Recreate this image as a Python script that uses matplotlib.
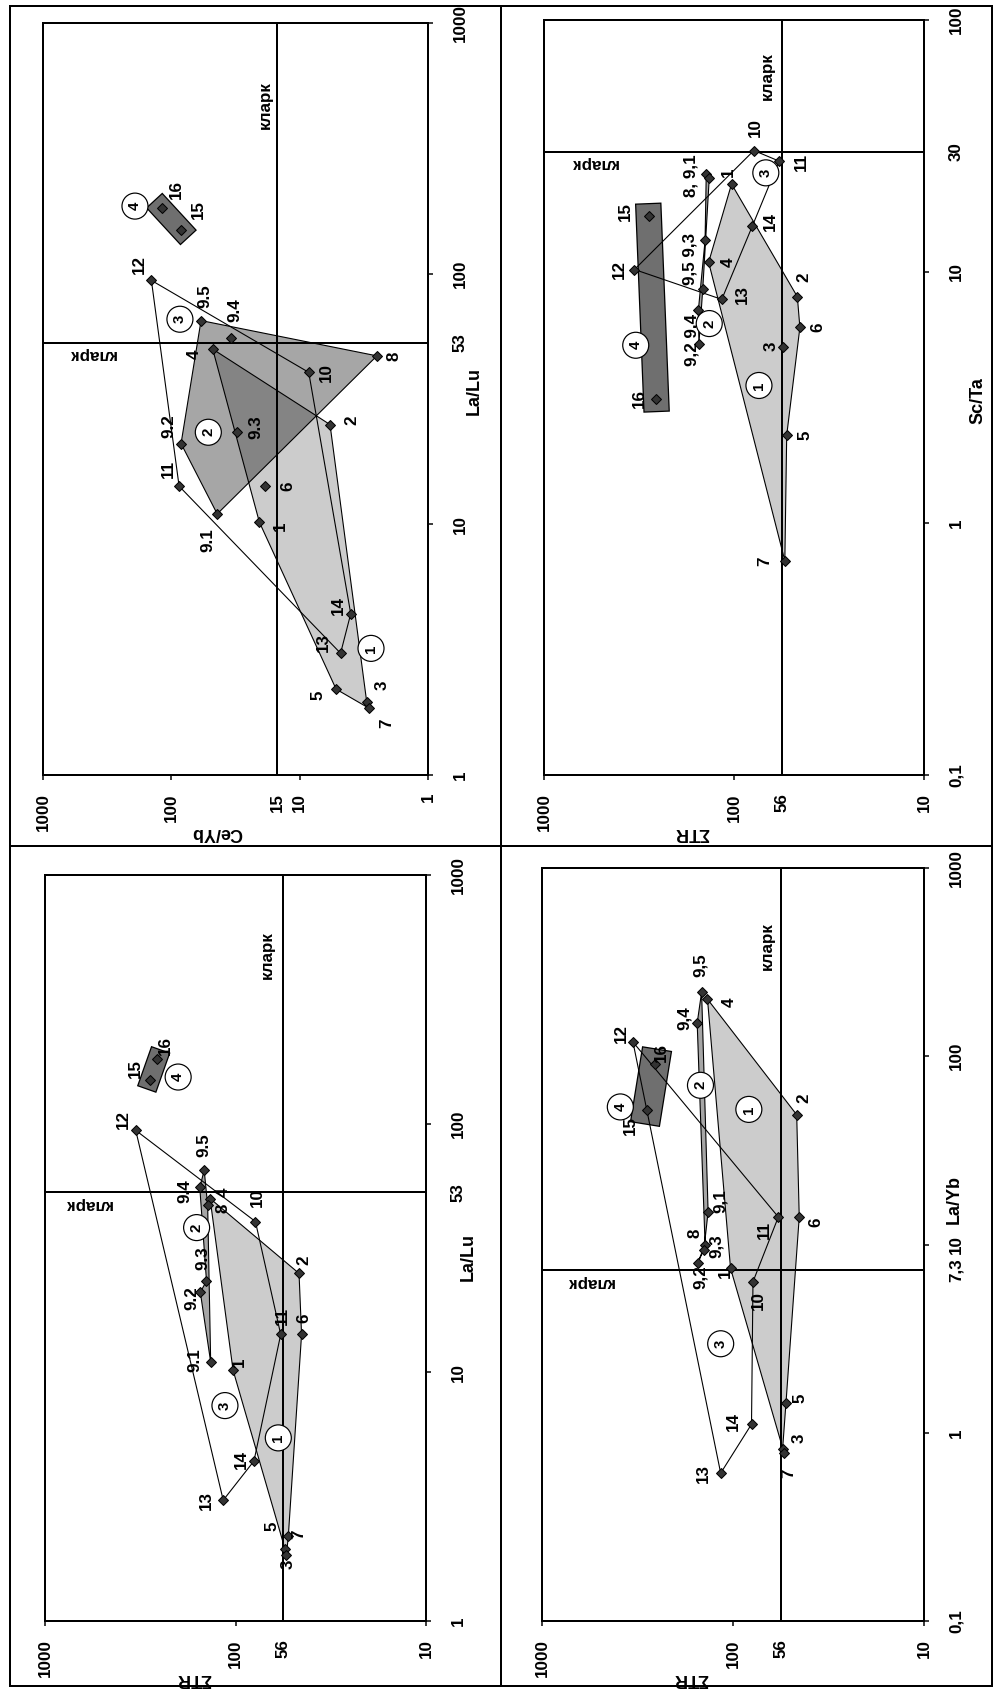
import matplotlib
matplotlib.use("Agg")
import matplotlib.pyplot as plt
import matplotlib.patheffects as pe
from matplotlib.lines import Line2D
from matplotlib.patches import Polygon
from matplotlib.ticker import FixedLocator, FixedFormatter

plt.rcParams["font.family"] = ["Liberation Sans", "DejaVu Sans"]
plt.rcParams["font.weight"] = "bold"

W, H, DPI = 997, 1691, 72  # 1 pt == 1 px

# samples and ratios (shared by all four diagrams)
SAMPLES = ["1", "2", "3", "4", "5", "6", "7", "8", "9.1", "9.2", "9.3",
           "9.4", "9.5", "10", "11", "12", "13", "14", "15", "16"]
LA_LU = [10.2, 25.0, 1.95, 50.0, 2.2, 14.2, 1.85, 47.0, 11.0, 21.0, 23.3,
         55.4, 65.0, 40.4, 14.2, 94.0, 3.06, 4.4, 150.0, 182.0]
CE_YB = [20.6, 5.8, 3.0, 47.6, 5.2, 18.6, 2.9, 2.5, 43.9, 84.0, 31.0,
         34.3, 58.7, 8.5, 87.0, 143.0, 4.8, 4.0, 84.0, 119.0]
ETR = [103, 46.4, 55, 136, 52.8, 45, 54, 140, 135, 153, 142,
       154, 146, 78.6, 57.9, 334, 116, 80, 281, 257]
SC_TA = [22.3, 7.95, 5.03, 10.9, 2.24, 6.0, 0.71, 24.4, 23.5, 5.16, 13.3,
         7.03, 8.56, 30.3, 27.5, 10.2, 7.76, 15.2, 16.6, 3.12]
LA_YB = [7.47, 48.9, 0.82, 201, 1.44, 14.0, 0.78, 10.0, 14.9, 7.98, 9.4,
         150, 219, 6.34, 14.0, 119, 0.61, 1.11, 52.1, 91.4]

# clarke (кларк) levels
CLARKE = {"La/Lu": 53, "Ce/Yb": 15, "ETR": 56, "Sc/Ta": 30, "La/Yb": 7.3}

# group outlines (vertex order) for each diagram
GROUPS = {
    "A": [["4", "2", "3", "7", "5", "1"], ["9.5", "8", "9.1", "9.2"],
          ["12", "10", "14", "13", "11"]],
    "B": [["1", "2", "6", "5", "7", "4"], ["8", "9.3", "9.4", "9.2", "9.5", "9.1"],
          ["12", "10", "11", "14", "13"]],
    "C": [["4", "2", "6", "5", "7", "3", "1"], ["9.5", "9.4", "9.3", "9.2", "9.1", "8"],
          ["12", "10", "11", "14", "13"]],
    "D": [["4", "2", "6", "5", "3", "7", "1"], ["9.5", "9.1", "9.3", "9.2", "8", "9.4"],
          ["12", "11", "10", "14", "13"]],
}

# circled group numbers, positions in data units
CIRCLES = {
    "A": [(2.78, 3.2), (51.5, 23.3), (85.7, 65.8), (192, 186)],
    "B": [(73.9, 3.53), (135, 6.22), (68, 24.7), (329, 5.1)],
    "C": [(59.6, 5.45), (160, 38.2), (113.6, 7.35), (200, 154)],
    "D": [(82.6, 52.2), (148, 70.1), (116, 2.97), (389, 53.8)],
}

# label offsets in px (dx right, dy down)
OFFSETS = {
    "A": {"1": (21, 4), "2": (22, -4), "3": (15, -17), "4": (-18, 5), "5": (-18, 6),
          "6": (23, 0), "7": (18, 15), "8": (17, 0), "9.1": (-9, 26), "9.2": (-12, -17),
          "9.3": (19, -5), "9.4": (4, -28), "9.5": (4, -24), "10": (18, 0),
          "11": (-11, -17), "12": (-12, -16), "13": (-17, -11), "14": (-12, -8),
          "15": (17, -20), "16": (15, -19)},
    "B": {"1": (-3, -12), "2": (7, -19), "3": (-12, 0), "4": (20, 0), "5": (18, 0),
          "6": (18, 0), "7": (-20, 0), "8": (-15, 2), "9.2": (-7, -4), "9.5": (-13, -30),
          "10": (2, -23), "11": (22, 1), "12": (-15, 0), "13": (21, -5), "14": (18, -4),
          "15": (-23, -5), "16": (-17, 0)},
    "C": {"1": (6, -8), "2": (5, -13), "3": (3, 15), "4": (13, -6), "5": (-16, -10),
          "6": (2, -16), "7": (12, -20), "8": (15, 3), "9.1": (-16, -2), "9.2": (-8, 6),
          "9.3": (-4, -23), "9.4": (-15, 4), "9.5": (0, -25), "10": (2, -24),
          "11": (2, -19), "12": (-12, -11), "13": (-17, 0), "14": (-13, -1),
          "15": (-15, -11), "16": (8, -13)},
    "D": {"1": (-5, 5), "2": (7, -16), "3": (17, -11), "4": (22, 3), "5": (14, -5),
          "6": (17, 5), "7": (5, 20), "8": (-10, -11), "9.1": (12, -11), "9.2": (3, 14),
          "9.3": (12, -3), "9.4": (-13, -5), "9.5": (-1, -27), "10": (5, 19),
          "11": (-14, 13), "12": (-12, -8), "13": (-17, 0), "14": (-18, -3),
          "15": (-17, 16), "16": (7, -11)},
}
# combined labels on diagram B
B_TEXT = {"8": "8, 9,1", "9.1": "", "9.5": "9,5 9,3", "9.3": "", "9.2": "9,2 9,4", "9.4": ""}

FS = 17


def fmt(v):
    return f"{v:g}".replace(".", ",")


def add_ax(fig, l, t, r, b):
    return fig.add_axes([l / W, 1 - b / H, (r - l) / W, (b - t) / H])


def panel(ax, key, xv, yv, xname, yname, xlim, ylim, xticks, yticks,
          sep, texts, band_lw, clarke_x_at, clarke_y_at, xt_frac, yt_frac, yt_off,
          clarke_x_off):
    ax.set_xscale("log")
    ax.set_yscale("log")
    ax.set_xlim(*xlim)
    ax.set_ylim(*ylim)
    cx, cy = CLARKE[xname], CLARKE[yname]
    ax.xaxis.set_major_locator(FixedLocator(xticks))
    ax.xaxis.set_major_formatter(FixedFormatter([fmt(t) for t in xticks]))
    ax.xaxis.set_minor_locator(FixedLocator([cx]))
    ax.xaxis.set_minor_formatter(FixedFormatter([fmt(cx)]))
    ax.yaxis.set_major_locator(FixedLocator(yticks))
    ax.yaxis.set_major_formatter(FixedFormatter([fmt(t) for t in yticks]))
    ax.yaxis.set_minor_locator(FixedLocator([cy]))
    ax.yaxis.set_minor_formatter(FixedFormatter([fmt(cy)]))
    ax.tick_params(axis="x", which="both", labelsize=FS, labelrotation=90, top=False)
    ax.tick_params(axis="x", which="major", direction="out", length=5, width=1.5, pad=13)
    ax.tick_params(axis="x", which="minor", length=0, pad=18)
    ax.tick_params(axis="y", which="both", left=False, right=True, labelleft=False,
                   labelright=True, labelrotation=90, labelsize=FS)
    ax.tick_params(axis="y", which="major", direction="out", length=5, width=1.5, pad=20)
    ax.tick_params(axis="y", which="minor", length=0, pad=25)
    for lbl in ax.get_yticklabels(which="both"):
        lbl.set_verticalalignment("center")
    for sp in ax.spines.values():
        sp.set_linewidth(2)

    # clarke lines
    ax.axvline(cx, color="k", lw=2, zorder=1)
    ax.axhline(cy, color="k", lw=2, zorder=1)
    ax.annotate("кларк", (cx, clarke_x_at), xytext=(clarke_x_off, 0),
                textcoords="offset points", rotation=90, ha="center", va="center",
                fontsize=FS, zorder=6)
    ax.annotate("кларк", (clarke_y_at, cy), xytext=(0, -12),
                textcoords="offset points", rotation=180, ha="center", va="center",
                fontsize=FS, zorder=6)

    pts = {s: (x, y) for s, x, y in zip(SAMPLES, xv, yv)}
    g1, g2, g3 = GROUPS[key]
    ax.add_patch(Polygon([pts[s] for s in g1], closed=True,
                         facecolor=(0, 0, 0, 0.2), edgecolor="k", lw=1.1, zorder=2))
    ax.add_patch(Polygon([pts[s] for s in g2], closed=True,
                         facecolor=(0, 0, 0, 0.35), edgecolor="k", lw=1.1, zorder=2))
    ax.add_patch(Polygon([pts[s] for s in g3], closed=True,
                         fill=False, edgecolor="k", lw=1.1, zorder=3))
    b = [pts["15"], pts["16"]]
    ax.plot([b[0][0], b[1][0]], [b[0][1], b[1][1]], color="#6f6f6f", lw=band_lw,
            solid_capstyle="projecting", zorder=2.5,
            path_effects=[pe.Stroke(linewidth=band_lw + 2.5, foreground="k"), pe.Normal()])

    ax.plot(xv, yv, ls="none", marker="D", ms=7.5, mfc="#333333", mec="k", mew=1, zorder=5)

    offs = OFFSETS[key]
    for s, x, y in zip(SAMPLES, xv, yv):
        txt = texts.get(s, s.replace(".", sep))
        if not txt:
            continue
        dx, dy = offs[s]
        ax.annotate(txt, (x, y), xytext=(dx, -dy), textcoords="offset points",
                    rotation=90, ha="center", va="center", fontsize=FS, zorder=6)

    for k, (x, y) in enumerate(CIRCLES[key], start=1):
        ax.text(x, y, str(k), rotation=90, ha="center", va="center", fontsize=15,
                zorder=7, bbox=dict(boxstyle="circle,pad=0.4", fc="white", ec="k", lw=1.2))

    xlab = "ΣTR" if xname == "ETR" else xname
    ax.annotate(xlab, (xt_frac, 0), xycoords="axes fraction", xytext=(0, -57),
                textcoords="offset points", rotation=180, ha="center", va="center",
                fontsize=18)
    ax.annotate(yname, (1, yt_frac), xycoords="axes fraction", xytext=(yt_off, 0),
                textcoords="offset points", rotation=90, ha="center", va="center",
                fontsize=18)


fig = plt.figure(figsize=(W / DPI, H / DPI), dpi=DPI)

axA = add_ax(fig, 43, 23, 428, 775)
panel(axA, "A", CE_YB, LA_LU, "Ce/Yb", "La/Lu", (1000, 1), (1, 1000),
      [1, 10, 100, 1000], [1, 10, 100, 1000], ".", {}, 20, 470, 413,
      0.452, 0.51, 46, -12)

axB = add_ax(fig, 544, 20, 924, 775)
panel(axB, "B", ETR, SC_TA, "ETR", "Sc/Ta", (1000, 10), (0.1, 100),
      [10, 100, 1000], [0.1, 1, 10, 100], ",", B_TEXT, 24, 60, 545,
      0.39, 0.496, 54, -14)

axC = add_ax(fig, 45, 875, 426, 1621)
panel(axC, "C", ETR, LA_LU, "ETR", "La/Lu", (1000, 10), (1, 1000),
      [10, 100, 1000], [1, 10, 100, 1000], ".", {}, 18, 476, 598,
      0.39, 0.488, 42, -16)

axD = add_ax(fig, 542, 868, 924, 1621)
panel(axD, "D", ETR, LA_YB, "ETR", "La/Yb", (1000, 10), (0.1, 1000),
      [10, 100, 1000], [0.1, 1, 10, 100, 1000], ",", {}, 28, 387, 564,
      0.39, 0.56, 30, -14)

# page frame
def frame_line(x0, y0, x1, y1):
    fig.add_artist(Line2D([x0 / W, x1 / W], [1 - y0 / H, 1 - y1 / H], color="k", lw=2))

L, R, T, B, VX, HY = 10, 992, 6, 1686, 501, 846
frame_line(L, T, R, T)
frame_line(L, B, R, B)
frame_line(L, T, L, B)
frame_line(R, T, R, B)
frame_line(VX, T, VX, B)
frame_line(L, HY, R, HY)

fig.savefig("out.png", dpi=DPI, facecolor="white")
